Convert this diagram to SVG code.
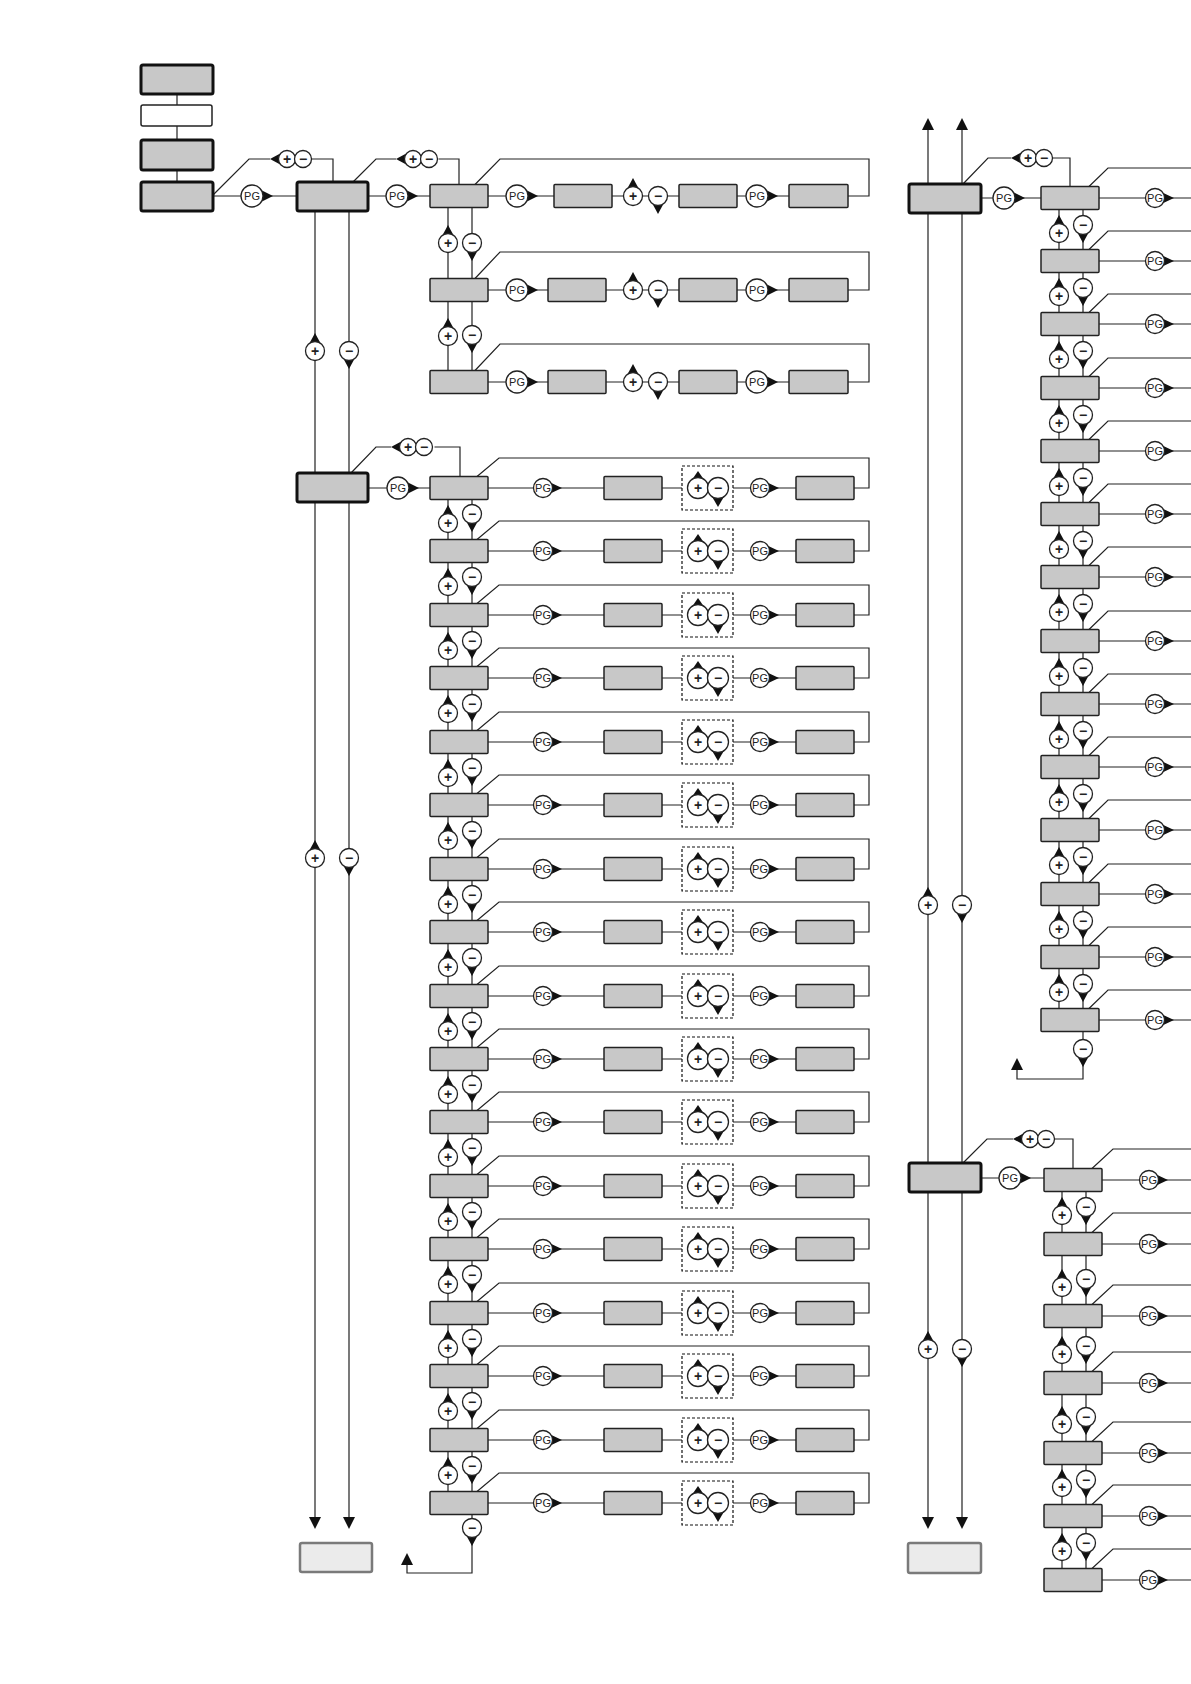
<svg xmlns="http://www.w3.org/2000/svg" xmlns:xlink="http://www.w3.org/1999/xlink" width="1191" height="1684" viewBox="0 0 1191 1684">
<style>
.b{fill:#c8c8c8;stroke:#222;stroke-width:1.5}
.t{fill:#c8c8c8;stroke:#111;stroke-width:3}
.w{fill:#fff;stroke:#222;stroke-width:1.5}
.l{fill:#ebebeb;stroke:#7a7a7a;stroke-width:2.5}
.d{fill:none;stroke:#111;stroke-width:1.2;stroke-dasharray:3 2}
.c{fill:none;stroke:#222;stroke-width:1.2}
.sc{fill:#fff;stroke:#222;stroke-width:1.3}
.k{fill:#111;stroke:none}
text{font-family:"Liberation Sans",Arial,sans-serif;text-anchor:middle;fill:#222}
.pgt{font-size:11px}
.pm{font-size:14px;font-weight:bold}
</style>
<defs>
<g id="pg"><path class="k" d="M4,-7 L19,0 L4,7Z"/><circle class="sc" r="9.5"/><text class="pgt" y="4">PG</text></g>
<g id="pgL"><path class="k" d="M5,-8 L21,0 L5,8Z"/><circle class="sc" r="11"/><text class="pgt" y="4">PG</text></g>
<g id="up"><path class="k" d="M-7,-5 L0,-18 L7,-5Z"/><circle class="sc" r="9.5"/><text class="pm" y="5">+</text></g>
<g id="dn"><path class="k" d="M-7,5 L0,18 L7,5Z"/><circle class="sc" r="9.5"/><text class="pm" y="4.5">−</text></g>
<g id="up2"><path class="k" d="M-7.5,-6 L0,-17 L7.5,-6Z"/><circle class="sc" r="10.5"/><text class="pm" y="5">+</text></g>
<g id="dn2"><path class="k" d="M-7.5,6 L0,19 L7.5,6Z"/><circle class="sc" r="10.5"/><text class="pm" y="4.5">−</text></g>
<g id="pair"><path class="k" d="M-4,-7 L-17,0 L-4,7Z"/><circle class="sc" r="8.5"/><circle class="sc" cx="16" r="8.5"/><text class="pm" y="5">+</text><text class="pm" x="16" y="4.5">−</text></g>
<path id="ad" class="k" d="M-6,-12 L6,-12 L0,0Z"/>
<path id="au" class="k" d="M-6,12 L6,12 L0,0Z"/>
</defs>
<rect width="1191" height="1684" fill="#fff"/>

<g id="connectors">
<path class="c" d="M177,94V105M177,126V140M177,170V182"/>
<path class="c" d="M213,196H297M213,195L249,159H270M311.5,159H333V182"/>
<path class="c" d="M368,196H430M353,182L376,159H396M438.5,159H459V184.5"/>
<path class="c" d="M368,488H430M351,473L376,447H391M434.5,447H460V476.5"/>
<path class="c" d="M315,211V1517M349,211V1517"/>
<path class="c" d="M928,130V1517M962,130V1517"/>
<path class="c" d="M981,198H1041M963,184L988,158H1011M1052.5,158H1070V186.5"/>
<path class="c" d="M981,1178H1044M963,1163L987,1139H1013M1038.5,1139H1073V1168.5"/>
<!-- upper-left rows -->
<path class="c" d="M488,196H554M612,196H679M737,196H789M848,196H869V159H500L475,184.5"/>
<path class="c" d="M488,290H548M606,290H679M737,290H789M848,290H869V252H500L475,278.5"/>
<path class="c" d="M488,382H548M606,382H679M737,382H789M848,382H869V344H500L475,370.5"/>
<path class="c" d="M448,207.5V370.5M472,207.5V370.5"/>
<!-- lower-left rows -->
<path class="c" d="M448,499.5V1491.5M472,499.5V1573H407V1558"/>
<path class="c" d="M488,488H604M662,488H682M733,488H796M854,488H869V458H499L477,476.5"/>
<path class="c" d="M488,551H604M662,551H682M733,551H796M854,551H869V521H499L477,539.5"/>
<path class="c" d="M488,615H604M662,615H682M733,615H796M854,615H869V585H499L477,603.5"/>
<path class="c" d="M488,678H604M662,678H682M733,678H796M854,678H869V648H499L477,666.5"/>
<path class="c" d="M488,742H604M662,742H682M733,742H796M854,742H869V712H499L477,730.5"/>
<path class="c" d="M488,805H604M662,805H682M733,805H796M854,805H869V775H499L477,793.5"/>
<path class="c" d="M488,869H604M662,869H682M733,869H796M854,869H869V839H499L477,857.5"/>
<path class="c" d="M488,932H604M662,932H682M733,932H796M854,932H869V902H499L477,920.5"/>
<path class="c" d="M488,996H604M662,996H682M733,996H796M854,996H869V966H499L477,984.5"/>
<path class="c" d="M488,1059H604M662,1059H682M733,1059H796M854,1059H869V1029H499L477,1047.5"/>
<path class="c" d="M488,1122H604M662,1122H682M733,1122H796M854,1122H869V1092H499L477,1110.5"/>
<path class="c" d="M488,1186H604M662,1186H682M733,1186H796M854,1186H869V1156H499L477,1174.5"/>
<path class="c" d="M488,1249H604M662,1249H682M733,1249H796M854,1249H869V1219H499L477,1237.5"/>
<path class="c" d="M488,1313H604M662,1313H682M733,1313H796M854,1313H869V1283H499L477,1301.5"/>
<path class="c" d="M488,1376H604M662,1376H682M733,1376H796M854,1376H869V1346H499L477,1364.5"/>
<path class="c" d="M488,1440H604M662,1440H682M733,1440H796M854,1440H869V1410H499L477,1428.5"/>
<path class="c" d="M488,1503H604M662,1503H682M733,1503H796M854,1503H869V1473H499L477,1491.5"/>
<!-- upper-right rows -->
<path class="c" d="M1059,209.5V1008.5M1083,209.5V1079H1017V1063"/>
<path class="c" d="M1099,198H1191M1089,186.5L1108,168H1191"/>
<path class="c" d="M1099,261H1191M1089,249.5L1108,231H1191"/>
<path class="c" d="M1099,324H1191M1089,312.5L1108,294H1191"/>
<path class="c" d="M1099,388H1191M1089,376.5L1108,358H1191"/>
<path class="c" d="M1099,451H1191M1089,439.5L1108,421H1191"/>
<path class="c" d="M1099,514H1191M1089,502.5L1108,484H1191"/>
<path class="c" d="M1099,577H1191M1089,565.5L1108,547H1191"/>
<path class="c" d="M1099,641H1191M1089,629.5L1108,611H1191"/>
<path class="c" d="M1099,704H1191M1089,692.5L1108,674H1191"/>
<path class="c" d="M1099,767H1191M1089,755.5L1108,737H1191"/>
<path class="c" d="M1099,830H1191M1089,818.5L1108,800H1191"/>
<path class="c" d="M1099,894H1191M1089,882.5L1108,864H1191"/>
<path class="c" d="M1099,957H1191M1089,945.5L1108,927H1191"/>
<path class="c" d="M1099,1020H1191M1089,1008.5L1108,990H1191"/>
<!-- lower-right rows -->
<path class="c" d="M1062,1191.5V1568.5M1086,1191.5V1568.5"/>
<path class="c" d="M1102,1180H1191M1092,1168.5L1113,1149H1191"/>
<path class="c" d="M1102,1244H1191M1092,1232.5L1113,1213H1191"/>
<path class="c" d="M1102,1316H1191M1092,1304.5L1113,1285H1191"/>
<path class="c" d="M1102,1383H1191M1092,1371.5L1113,1352H1191"/>
<path class="c" d="M1102,1453H1191M1092,1441.5L1113,1422H1191"/>
<path class="c" d="M1102,1516H1191M1092,1504.5L1113,1485H1191"/>
<path class="c" d="M1102,1580H1191M1092,1568.5L1113,1549H1191"/>

<!-- arrowheads -->
<use href="#ad" x="315" y="1529"/><use href="#ad" x="349" y="1529"/>
<use href="#ad" x="928" y="1529"/><use href="#ad" x="962" y="1529"/>
<use href="#au" x="928" y="118"/><use href="#au" x="962" y="118"/>
<use href="#au" x="407" y="1553"/><use href="#au" x="1017" y="1058"/>

<!-- labels on connectors -->
<use href="#pgL" x="252" y="196"/><use href="#pgL" x="397" y="196"/><use href="#pgL" x="398" y="488"/>
<use href="#pgL" x="1004" y="198"/><use href="#pgL" x="1010" y="1178"/>
<use href="#pair" x="287" y="159"/><use href="#pair" x="413" y="159"/><use href="#pair" x="408" y="447"/>
<use href="#pair" x="1028" y="158"/><use href="#pair" x="1030" y="1139"/>
<use href="#up" x="315" y="351"/><use href="#dn" x="349" y="351"/>
<use href="#up" x="315" y="858"/><use href="#dn" x="349" y="858"/>
<use href="#up" x="928" y="905"/><use href="#dn" x="962" y="905"/>
<use href="#up" x="928" y="1349"/><use href="#dn" x="962" y="1349"/>

<!-- upper-left row labels -->
<use href="#pgL" x="517" y="196"/><use href="#up" x="633" y="196"/><use href="#dn" x="658" y="196"/><use href="#pgL" x="757" y="196"/>
<use href="#pgL" x="517" y="290"/><use href="#up" x="633" y="290"/><use href="#dn" x="658" y="290"/><use href="#pgL" x="757" y="290"/>
<use href="#pgL" x="517" y="382"/><use href="#up" x="633" y="382"/><use href="#dn" x="658" y="382"/><use href="#pgL" x="757" y="382"/>
<use href="#up" x="448" y="243"/><use href="#dn" x="472" y="243"/>
<use href="#up" x="448" y="336"/><use href="#dn" x="472" y="335"/>

<!-- lower-left row labels -->
<g id="ll-labels">
<use href="#pg" x="543" y="488"/><use href="#up2" x="698" y="488"/><use href="#dn2" x="718" y="488"/><use href="#pg" x="760" y="488"/>
<use href="#pg" x="543" y="551"/><use href="#up2" x="698" y="551"/><use href="#dn2" x="718" y="551"/><use href="#pg" x="760" y="551"/>
<use href="#pg" x="543" y="615"/><use href="#up2" x="698" y="615"/><use href="#dn2" x="718" y="615"/><use href="#pg" x="760" y="615"/>
<use href="#pg" x="543" y="678"/><use href="#up2" x="698" y="678"/><use href="#dn2" x="718" y="678"/><use href="#pg" x="760" y="678"/>
<use href="#pg" x="543" y="742"/><use href="#up2" x="698" y="742"/><use href="#dn2" x="718" y="742"/><use href="#pg" x="760" y="742"/>
<use href="#pg" x="543" y="805"/><use href="#up2" x="698" y="805"/><use href="#dn2" x="718" y="805"/><use href="#pg" x="760" y="805"/>
<use href="#pg" x="543" y="869"/><use href="#up2" x="698" y="869"/><use href="#dn2" x="718" y="869"/><use href="#pg" x="760" y="869"/>
<use href="#pg" x="543" y="932"/><use href="#up2" x="698" y="932"/><use href="#dn2" x="718" y="932"/><use href="#pg" x="760" y="932"/>
<use href="#pg" x="543" y="996"/><use href="#up2" x="698" y="996"/><use href="#dn2" x="718" y="996"/><use href="#pg" x="760" y="996"/>
<use href="#pg" x="543" y="1059"/><use href="#up2" x="698" y="1059"/><use href="#dn2" x="718" y="1059"/><use href="#pg" x="760" y="1059"/>
<use href="#pg" x="543" y="1122"/><use href="#up2" x="698" y="1122"/><use href="#dn2" x="718" y="1122"/><use href="#pg" x="760" y="1122"/>
<use href="#pg" x="543" y="1186"/><use href="#up2" x="698" y="1186"/><use href="#dn2" x="718" y="1186"/><use href="#pg" x="760" y="1186"/>
<use href="#pg" x="543" y="1249"/><use href="#up2" x="698" y="1249"/><use href="#dn2" x="718" y="1249"/><use href="#pg" x="760" y="1249"/>
<use href="#pg" x="543" y="1313"/><use href="#up2" x="698" y="1313"/><use href="#dn2" x="718" y="1313"/><use href="#pg" x="760" y="1313"/>
<use href="#pg" x="543" y="1376"/><use href="#up2" x="698" y="1376"/><use href="#dn2" x="718" y="1376"/><use href="#pg" x="760" y="1376"/>
<use href="#pg" x="543" y="1440"/><use href="#up2" x="698" y="1440"/><use href="#dn2" x="718" y="1440"/><use href="#pg" x="760" y="1440"/>
<use href="#pg" x="543" y="1503"/><use href="#up2" x="698" y="1503"/><use href="#dn2" x="718" y="1503"/><use href="#pg" x="760" y="1503"/>
<use href="#up" x="448" y="523"/><use href="#dn" x="472" y="514"/>
<use href="#up" x="448" y="586"/><use href="#dn" x="472" y="577"/>
<use href="#up" x="448" y="650"/><use href="#dn" x="472" y="641"/>
<use href="#up" x="448" y="713"/><use href="#dn" x="472" y="704"/>
<use href="#up" x="448" y="777"/><use href="#dn" x="472" y="768"/>
<use href="#up" x="448" y="840"/><use href="#dn" x="472" y="831"/>
<use href="#up" x="448" y="904"/><use href="#dn" x="472" y="895"/>
<use href="#up" x="448" y="967"/><use href="#dn" x="472" y="958"/>
<use href="#up" x="448" y="1031"/><use href="#dn" x="472" y="1022"/>
<use href="#up" x="448" y="1094"/><use href="#dn" x="472" y="1085"/>
<use href="#up" x="448" y="1157"/><use href="#dn" x="472" y="1148"/>
<use href="#up" x="448" y="1221"/><use href="#dn" x="472" y="1212"/>
<use href="#up" x="448" y="1284"/><use href="#dn" x="472" y="1275"/>
<use href="#up" x="448" y="1348"/><use href="#dn" x="472" y="1339"/>
<use href="#up" x="448" y="1411"/><use href="#dn" x="472" y="1402"/>
<use href="#up" x="448" y="1475"/><use href="#dn" x="472" y="1466"/>
<use href="#dn" x="472" y="1528"/>
</g>

<!-- upper-right labels -->
<g id="ur-labels">
<use href="#pg" x="1155" y="198"/><use href="#pg" x="1155" y="261"/><use href="#pg" x="1155" y="324"/><use href="#pg" x="1155" y="388"/>
<use href="#pg" x="1155" y="451"/><use href="#pg" x="1155" y="514"/><use href="#pg" x="1155" y="577"/><use href="#pg" x="1155" y="641"/>
<use href="#pg" x="1155" y="704"/><use href="#pg" x="1155" y="767"/><use href="#pg" x="1155" y="830"/><use href="#pg" x="1155" y="894"/>
<use href="#pg" x="1155" y="957"/><use href="#pg" x="1155" y="1020"/>
<use href="#up" x="1059" y="233"/><use href="#dn" x="1083" y="225"/>
<use href="#up" x="1059" y="296"/><use href="#dn" x="1083" y="288"/>
<use href="#up" x="1059" y="359"/><use href="#dn" x="1083" y="351"/>
<use href="#up" x="1059" y="423"/><use href="#dn" x="1083" y="415"/>
<use href="#up" x="1059" y="486"/><use href="#dn" x="1083" y="478"/>
<use href="#up" x="1059" y="549"/><use href="#dn" x="1083" y="541"/>
<use href="#up" x="1059" y="612"/><use href="#dn" x="1083" y="604"/>
<use href="#up" x="1059" y="676"/><use href="#dn" x="1083" y="668"/>
<use href="#up" x="1059" y="739"/><use href="#dn" x="1083" y="731"/>
<use href="#up" x="1059" y="802"/><use href="#dn" x="1083" y="794"/>
<use href="#up" x="1059" y="865"/><use href="#dn" x="1083" y="857"/>
<use href="#up" x="1059" y="929"/><use href="#dn" x="1083" y="921"/>
<use href="#up" x="1059" y="992"/><use href="#dn" x="1083" y="984"/>
<use href="#dn" x="1083" y="1049"/>
</g>

<!-- lower-right labels -->
<g id="lr-labels">
<use href="#pg" x="1149" y="1180"/><use href="#pg" x="1149" y="1244"/><use href="#pg" x="1149" y="1316"/><use href="#pg" x="1149" y="1383"/>
<use href="#pg" x="1149" y="1453"/><use href="#pg" x="1149" y="1516"/><use href="#pg" x="1149" y="1580"/>
<use href="#up" x="1062" y="1215"/><use href="#dn" x="1086" y="1207"/>
<use href="#up" x="1062" y="1287"/><use href="#dn" x="1086" y="1279"/>
<use href="#up" x="1062" y="1354"/><use href="#dn" x="1086" y="1346"/>
<use href="#up" x="1062" y="1424"/><use href="#dn" x="1086" y="1417"/>
<use href="#up" x="1062" y="1487"/><use href="#dn" x="1086" y="1480"/>
<use href="#up" x="1062" y="1551"/><use href="#dn" x="1086" y="1543"/>
</g>
</g>

<g id="nodes">
<g id="m1"><rect class="t" x="141" y="65" width="72" height="29" rx="2"/></g>
<g id="m2"><rect class="w" x="141" y="105" width="71" height="21" rx="2"/></g>
<g id="m3"><rect class="t" x="141" y="140" width="72" height="30" rx="2"/></g>
<g id="m4"><rect class="t" x="141" y="182" width="72" height="29" rx="2"/></g>
<g id="m5"><rect class="t" x="297" y="182" width="71" height="29" rx="2"/></g>
<g id="m7"><rect class="t" x="297" y="473" width="71" height="29" rx="2"/></g>
<g id="r1"><rect class="t" x="909" y="184" width="72" height="29" rx="2"/></g>
<g id="r2"><rect class="t" x="909" y="1163" width="72" height="29" rx="2"/></g>
<g id="endL"><rect class="l" x="300" y="1543" width="72" height="29" rx="2"/></g>
<g id="endR"><rect class="l" x="908" y="1543" width="73" height="30" rx="2"/></g>

<g id="ul1a"><rect class="b" x="430" y="184.5" width="58" height="23" rx="1"/></g>
<g id="ul1b"><rect class="b" x="554" y="184.5" width="58" height="23" rx="1"/></g>
<g id="ul1c"><rect class="b" x="679" y="184.5" width="58" height="23" rx="1"/></g>
<g id="ul1d"><rect class="b" x="789" y="184.5" width="59" height="23" rx="1"/></g>
<g id="ul2a"><rect class="b" x="430" y="278.5" width="58" height="23" rx="1"/></g>
<g id="ul2b"><rect class="b" x="548" y="278.5" width="58" height="23" rx="1"/></g>
<g id="ul2c"><rect class="b" x="679" y="278.5" width="58" height="23" rx="1"/></g>
<g id="ul2d"><rect class="b" x="789" y="278.5" width="59" height="23" rx="1"/></g>
<g id="ul3a"><rect class="b" x="430" y="370.5" width="58" height="23" rx="1"/></g>
<g id="ul3b"><rect class="b" x="548" y="370.5" width="58" height="23" rx="1"/></g>
<g id="ul3c"><rect class="b" x="679" y="370.5" width="58" height="23" rx="1"/></g>
<g id="ul3d"><rect class="b" x="789" y="370.5" width="59" height="23" rx="1"/></g>

<g id="ll1a"><rect class="b" x="430" y="476.5" width="58" height="23" rx="1"/></g><g id="ll1b"><rect class="b" x="604" y="476.5" width="58" height="23" rx="1"/></g><g id="ll1f"><rect class="d" x="682" y="466" width="51" height="44"/></g><g id="ll1d"><rect class="b" x="796" y="476.5" width="58" height="23" rx="1"/></g>
<g id="ll2a"><rect class="b" x="430" y="539.5" width="58" height="23" rx="1"/></g><g id="ll2b"><rect class="b" x="604" y="539.5" width="58" height="23" rx="1"/></g><g id="ll2f"><rect class="d" x="682" y="529" width="51" height="44"/></g><g id="ll2d"><rect class="b" x="796" y="539.5" width="58" height="23" rx="1"/></g>
<g id="ll3a"><rect class="b" x="430" y="603.5" width="58" height="23" rx="1"/></g><g id="ll3b"><rect class="b" x="604" y="603.5" width="58" height="23" rx="1"/></g><g id="ll3f"><rect class="d" x="682" y="593" width="51" height="44"/></g><g id="ll3d"><rect class="b" x="796" y="603.5" width="58" height="23" rx="1"/></g>
<g id="ll4a"><rect class="b" x="430" y="666.5" width="58" height="23" rx="1"/></g><g id="ll4b"><rect class="b" x="604" y="666.5" width="58" height="23" rx="1"/></g><g id="ll4f"><rect class="d" x="682" y="656" width="51" height="44"/></g><g id="ll4d"><rect class="b" x="796" y="666.5" width="58" height="23" rx="1"/></g>
<g id="ll5a"><rect class="b" x="430" y="730.5" width="58" height="23" rx="1"/></g><g id="ll5b"><rect class="b" x="604" y="730.5" width="58" height="23" rx="1"/></g><g id="ll5f"><rect class="d" x="682" y="720" width="51" height="44"/></g><g id="ll5d"><rect class="b" x="796" y="730.5" width="58" height="23" rx="1"/></g>
<g id="ll6a"><rect class="b" x="430" y="793.5" width="58" height="23" rx="1"/></g><g id="ll6b"><rect class="b" x="604" y="793.5" width="58" height="23" rx="1"/></g><g id="ll6f"><rect class="d" x="682" y="783" width="51" height="44"/></g><g id="ll6d"><rect class="b" x="796" y="793.5" width="58" height="23" rx="1"/></g>
<g id="ll7a"><rect class="b" x="430" y="857.5" width="58" height="23" rx="1"/></g><g id="ll7b"><rect class="b" x="604" y="857.5" width="58" height="23" rx="1"/></g><g id="ll7f"><rect class="d" x="682" y="847" width="51" height="44"/></g><g id="ll7d"><rect class="b" x="796" y="857.5" width="58" height="23" rx="1"/></g>
<g id="ll8a"><rect class="b" x="430" y="920.5" width="58" height="23" rx="1"/></g><g id="ll8b"><rect class="b" x="604" y="920.5" width="58" height="23" rx="1"/></g><g id="ll8f"><rect class="d" x="682" y="910" width="51" height="44"/></g><g id="ll8d"><rect class="b" x="796" y="920.5" width="58" height="23" rx="1"/></g>
<g id="ll9a"><rect class="b" x="430" y="984.5" width="58" height="23" rx="1"/></g><g id="ll9b"><rect class="b" x="604" y="984.5" width="58" height="23" rx="1"/></g><g id="ll9f"><rect class="d" x="682" y="974" width="51" height="44"/></g><g id="ll9d"><rect class="b" x="796" y="984.5" width="58" height="23" rx="1"/></g>
<g id="ll10a"><rect class="b" x="430" y="1047.5" width="58" height="23" rx="1"/></g><g id="ll10b"><rect class="b" x="604" y="1047.5" width="58" height="23" rx="1"/></g><g id="ll10f"><rect class="d" x="682" y="1037" width="51" height="44"/></g><g id="ll10d"><rect class="b" x="796" y="1047.5" width="58" height="23" rx="1"/></g>
<g id="ll11a"><rect class="b" x="430" y="1110.5" width="58" height="23" rx="1"/></g><g id="ll11b"><rect class="b" x="604" y="1110.5" width="58" height="23" rx="1"/></g><g id="ll11f"><rect class="d" x="682" y="1100" width="51" height="44"/></g><g id="ll11d"><rect class="b" x="796" y="1110.5" width="58" height="23" rx="1"/></g>
<g id="ll12a"><rect class="b" x="430" y="1174.5" width="58" height="23" rx="1"/></g><g id="ll12b"><rect class="b" x="604" y="1174.5" width="58" height="23" rx="1"/></g><g id="ll12f"><rect class="d" x="682" y="1164" width="51" height="44"/></g><g id="ll12d"><rect class="b" x="796" y="1174.5" width="58" height="23" rx="1"/></g>
<g id="ll13a"><rect class="b" x="430" y="1237.5" width="58" height="23" rx="1"/></g><g id="ll13b"><rect class="b" x="604" y="1237.5" width="58" height="23" rx="1"/></g><g id="ll13f"><rect class="d" x="682" y="1227" width="51" height="44"/></g><g id="ll13d"><rect class="b" x="796" y="1237.5" width="58" height="23" rx="1"/></g>
<g id="ll14a"><rect class="b" x="430" y="1301.5" width="58" height="23" rx="1"/></g><g id="ll14b"><rect class="b" x="604" y="1301.5" width="58" height="23" rx="1"/></g><g id="ll14f"><rect class="d" x="682" y="1291" width="51" height="44"/></g><g id="ll14d"><rect class="b" x="796" y="1301.5" width="58" height="23" rx="1"/></g>
<g id="ll15a"><rect class="b" x="430" y="1364.5" width="58" height="23" rx="1"/></g><g id="ll15b"><rect class="b" x="604" y="1364.5" width="58" height="23" rx="1"/></g><g id="ll15f"><rect class="d" x="682" y="1354" width="51" height="44"/></g><g id="ll15d"><rect class="b" x="796" y="1364.5" width="58" height="23" rx="1"/></g>
<g id="ll16a"><rect class="b" x="430" y="1428.5" width="58" height="23" rx="1"/></g><g id="ll16b"><rect class="b" x="604" y="1428.5" width="58" height="23" rx="1"/></g><g id="ll16f"><rect class="d" x="682" y="1418" width="51" height="44"/></g><g id="ll16d"><rect class="b" x="796" y="1428.5" width="58" height="23" rx="1"/></g>
<g id="ll17a"><rect class="b" x="430" y="1491.5" width="58" height="23" rx="1"/></g><g id="ll17b"><rect class="b" x="604" y="1491.5" width="58" height="23" rx="1"/></g><g id="ll17f"><rect class="d" x="682" y="1481" width="51" height="44"/></g><g id="ll17d"><rect class="b" x="796" y="1491.5" width="58" height="23" rx="1"/></g>

<g id="ur1"><rect class="b" x="1041" y="186.5" width="58" height="23" rx="1"/></g>
<g id="ur2"><rect class="b" x="1041" y="249.5" width="58" height="23" rx="1"/></g>
<g id="ur3"><rect class="b" x="1041" y="312.5" width="58" height="23" rx="1"/></g>
<g id="ur4"><rect class="b" x="1041" y="376.5" width="58" height="23" rx="1"/></g>
<g id="ur5"><rect class="b" x="1041" y="439.5" width="58" height="23" rx="1"/></g>
<g id="ur6"><rect class="b" x="1041" y="502.5" width="58" height="23" rx="1"/></g>
<g id="ur7"><rect class="b" x="1041" y="565.5" width="58" height="23" rx="1"/></g>
<g id="ur8"><rect class="b" x="1041" y="629.5" width="58" height="23" rx="1"/></g>
<g id="ur9"><rect class="b" x="1041" y="692.5" width="58" height="23" rx="1"/></g>
<g id="ur10"><rect class="b" x="1041" y="755.5" width="58" height="23" rx="1"/></g>
<g id="ur11"><rect class="b" x="1041" y="818.5" width="58" height="23" rx="1"/></g>
<g id="ur12"><rect class="b" x="1041" y="882.5" width="58" height="23" rx="1"/></g>
<g id="ur13"><rect class="b" x="1041" y="945.5" width="58" height="23" rx="1"/></g>
<g id="ur14"><rect class="b" x="1041" y="1008.5" width="58" height="23" rx="1"/></g>

<g id="lr1"><rect class="b" x="1044" y="1168.5" width="58" height="23" rx="1"/></g>
<g id="lr2"><rect class="b" x="1044" y="1232.5" width="58" height="23" rx="1"/></g>
<g id="lr3"><rect class="b" x="1044" y="1304.5" width="58" height="23" rx="1"/></g>
<g id="lr4"><rect class="b" x="1044" y="1371.5" width="58" height="23" rx="1"/></g>
<g id="lr5"><rect class="b" x="1044" y="1441.5" width="58" height="23" rx="1"/></g>
<g id="lr6"><rect class="b" x="1044" y="1504.5" width="58" height="23" rx="1"/></g>
<g id="lr7"><rect class="b" x="1044" y="1568.5" width="58" height="23" rx="1"/></g>
</g>
</svg>
